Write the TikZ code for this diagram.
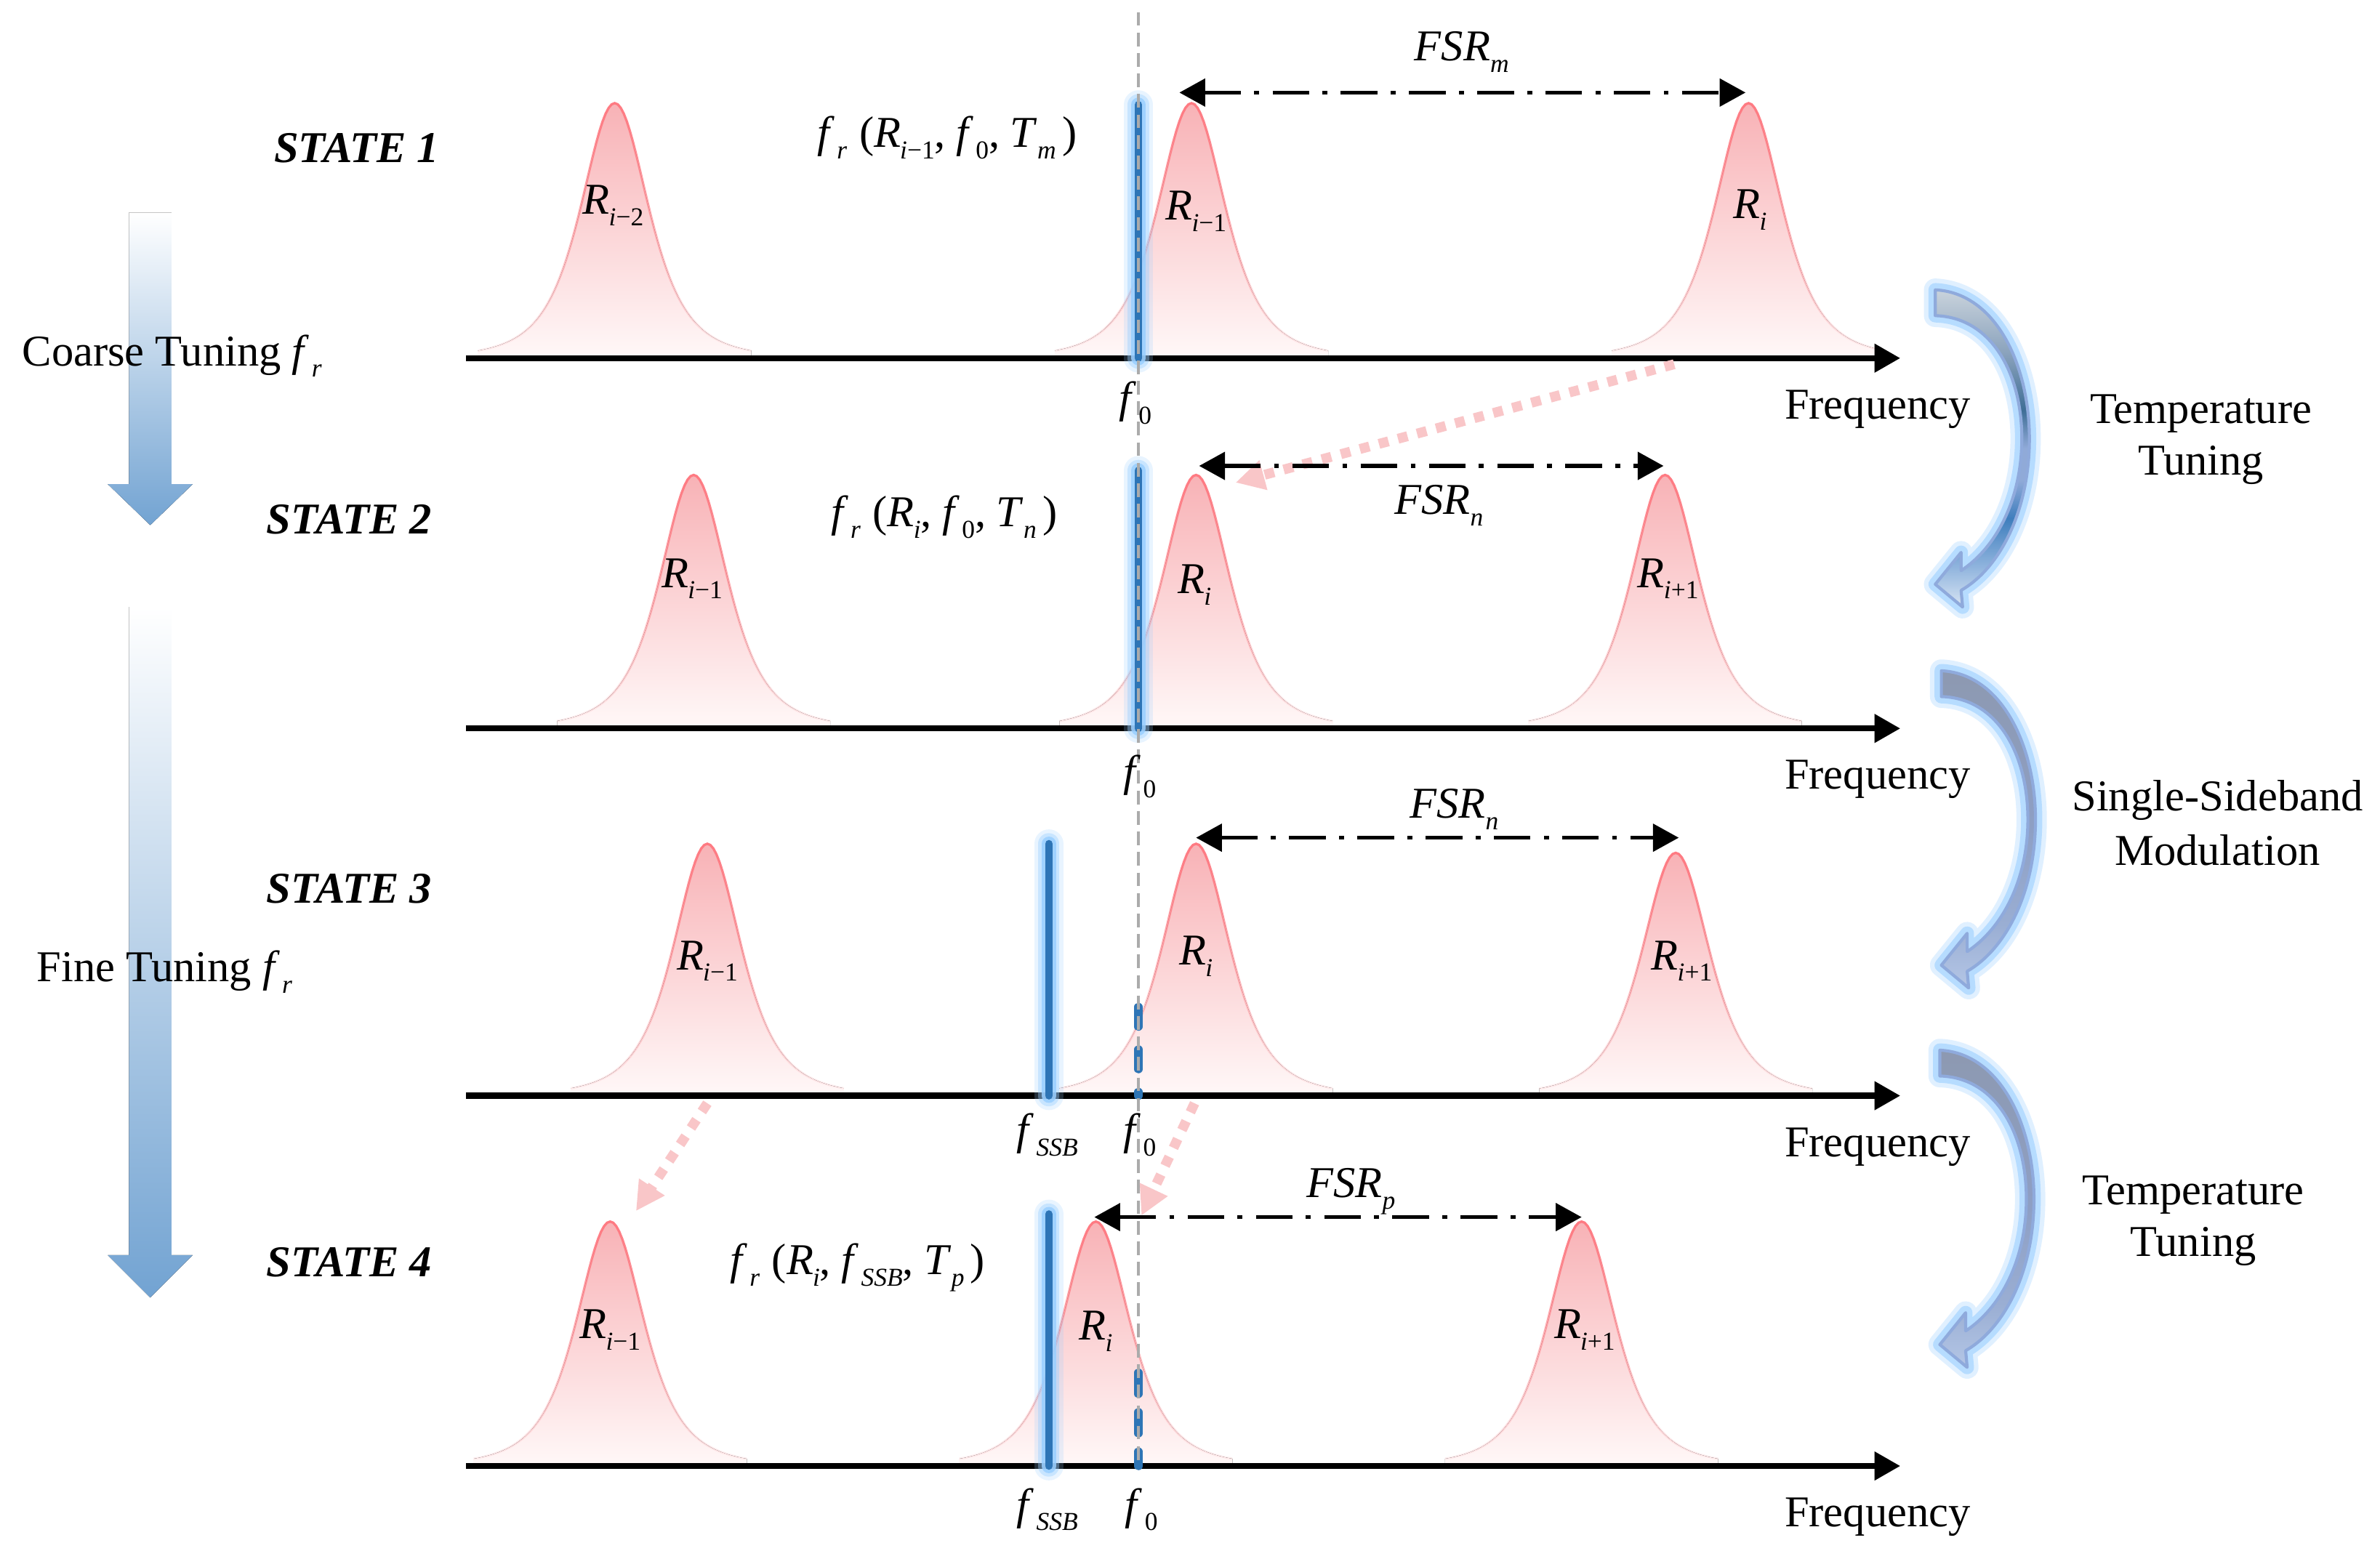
\documentclass[tikz,border=0pt]{standalone}
\usepackage{fontspec}
\setmainfont{Liberation Serif}
\usetikzlibrary{arrows.meta,fadings}

\definecolor{pkTop}{HTML}{F8B2B6}
\definecolor{pkBot}{HTML}{FFF8F8}
\definecolor{pkLine}{HTML}{FF7A82}
\definecolor{barBlue}{HTML}{2E75B6}
\definecolor{glowBlue}{HTML}{9ACFFF}
\definecolor{dashGray}{HTML}{ABABAB}
\definecolor{pinkDot}{HTML}{F9C6C8}
\definecolor{arrOut}{HTML}{8FAADC}
\definecolor{leftBot}{HTML}{72A3D2}

\definecolor{cA1}{HTML}{C9D3DC}
\definecolor{cA2}{HTML}{8AA2BC}
\definecolor{cA3}{HTML}{3F6E96}
\definecolor{cA4}{HTML}{90AAD8}
\definecolor{cA6}{HTML}{3F7EBD}
\definecolor{cA7}{HTML}{8EB3DD}
\definecolor{cA8}{HTML}{D9E5F3}
\definecolor{cB1}{HTML}{8D99B1}
\definecolor{cB2}{HTML}{8E9FC4}
\definecolor{cB3}{HTML}{9AAED3}
\definecolor{cB4}{HTML}{B4C6E6}

\pgfdeclareverticalshading{arrA}{100bp}{color(0bp)=(cA8); color(25bp)=(cA8); color(31.5bp)=(cA7); color(39bp)=(cA6); color(45bp)=(cA4); color(50bp)=(cA4); color(56bp)=(cA3); color(65bp)=(cA2); color(75bp)=(cA1); color(100bp)=(cA1)}
\pgfdeclareverticalshading{arrB}{100bp}{color(0bp)=(cB4); color(25bp)=(cB4); color(35bp)=(cB3); color(50bp)=(cB2); color(75bp)=(cB1); color(100bp)=(cB1)}

\tikzfading[name=fadeDown, top color=transparent!0, bottom color=transparent!92]

\newcommand{\sbx}[1]{\raisebox{-7.5pt}{\fontsize{17}{17}\selectfont #1}}
\newcommand{\Rl}[1]{\textit{R}\kern-0.5pt\sbx{#1}}
\newcommand{\fl}[1]{\textit{f}\kern1.5pt\sbx{#1}}
\newcommand{\carrowpath}{(0,0) .. controls (40,2) and (62,50) .. (62,98) .. controls (62,145) and (43,183) .. (17,198) -- (18,209) -- (0,194) -- (17,173) -- (17,185) .. controls (40,170) and (57,138) .. (57,98) .. controls (57,55) and (37,18) .. (0,17) -- cycle}

\newcommand{\peak}[3]{%
  \fill[top color=pkTop, bottom color=pkBot] ({#1-90},{#2}) -- plot[domain=-90:90, samples=91, variable=\t] ({#1+\t},{#2-#3/((1+(\t/41)^2)^2)}) -- ({#1+90},{#2}) -- cycle;
  \draw[pkLine, line width=1.6pt, path fading=fadeDown] plot[domain=-90:90, samples=91, variable=\t] ({#1+\t},{#2-#3/((1+(\t/41)^2)^2)});
}
\newcommand{\bluebar}[3]{%
  \draw[glowBlue, opacity=.22, line width=19pt, line cap=round] (#1,#2) -- (#1,#3);
  \draw[glowBlue, opacity=.4, line width=14pt, line cap=round] (#1,#2) -- (#1,#3);
  \draw[glowBlue, opacity=.85, line width=9.5pt, line cap=round] (#1,#2) -- (#1,#3);
  \draw[barBlue, line width=5pt, line cap=round] (#1,#2) -- (#1,#3);
}

\tikzset{
  every node/.style={inner sep=0pt, font=\fontsize{29}{34}\selectfont},
  axisline/.style={line width=4pt, -{Triangle[length=17pt,width=18pt]}},
  fsrarrow/.style={line width=2.6pt, dash pattern=on 24pt off 9pt on 3pt off 9pt, {Triangle[length=17pt,width=18pt]}-{Triangle[length=17pt,width=18pt]}},
  pinkarrow/.style={pinkDot, line width=6.5pt, dash pattern=on 6.5pt off 6.5pt, -{Triangle[length=19pt,width=19pt]}},
  bluedash/.style={barBlue, line width=5.5pt, line cap=round},
  leftarrow/.style={top color=white, bottom color=leftBot},
  pics/carrow/.style={code={
    \draw[glowBlue, opacity=.3, line width=15pt, line join=round] \carrowpath;
    \draw[glowBlue, opacity=.6, line width=9pt, line join=round] \carrowpath;
    \fill[shading=#1] \carrowpath;
    \draw[arrOut, line width=2pt, line join=round] \carrowpath;
  }}
}

\begin{document}
\begin{tikzpicture}[x=1pt,y=-1pt]
\fill[white] (0,0) rectangle (1568,1027);
\useasboundingbox (0,0) rectangle (1568,1027);

% left gradient arrows
\fill[leftarrow] (85,140) -- (113,140) -- (113,319) -- (127,319) -- (99,346) -- (71,319) -- (85,319) -- cycle;
\fill[leftarrow] (85,400) -- (113,400) -- (113,827) -- (127,827) -- (99,855) -- (71,827) -- (85,827) -- cycle;

% resonance peaks
\peak{405}{236}{168}
\peak{785}{236}{168}
\peak{1152}{236}{168}
\peak{457}{480}{167}
\peak{788}{480}{167}
\peak{1097}{480}{167}
\peak{466}{722}{166}
\peak{788}{722}{166}
\peak{1104}{722}{160}
\peak{402}{966}{161}
\peak{722}{966}{161}
\peak{1042}{966}{161}

% axes
\foreach \i/\y in {1/236,2/480,3/722,4/966}{
  \coordinate (ax\i s) at (307,\y);
  \coordinate (ax\i e) at (1252,\y);
  \draw[axisline] (ax\i s) -- (ax\i e);
}

% laser lines
\bluebar{750}{69}{236}
\bluebar{750}{310}{480}
\bluebar{691}{556}{722}
\bluebar{691}{800}{966}
\coordinate (d3a) at (750,663.5); \coordinate (d3b) at (750,722);
\draw[bluedash, dash pattern=on 13pt off 15pt] (d3a) -- (d3b);
\coordinate (d4a) at (750,904.5); \coordinate (d4b) at (750,966);
\draw[bluedash, dash pattern=on 14pt off 12pt] (d4a) -- (d4b);

% f0 reference line
\coordinate (g0) at (750,8);
\coordinate (g1) at (750,966);
\draw[dashGray, line width=2pt, dash pattern=on 9pt off 4.5pt] (g0) -- (g1);

% pink shift arrows
\coordinate (p1s) at (1103,240); \coordinate (p1e) at (814,318);
\coordinate (p2s) at (466,727); \coordinate (p2e) at (419,798);
\coordinate (p3s) at (787,727); \coordinate (p3e) at (752,801);
\draw[pinkarrow] (p1s) -- (p1e);
\draw[pinkarrow] (p2s) -- (p2e);
\draw[pinkarrow] (p3s) -- (p3e);

% FSR arrows
\coordinate (f1a) at (777,61); \coordinate (f1b) at (1150,61);
\coordinate (f2a) at (790,307); \coordinate (f2b) at (1096,307);
\coordinate (f3a) at (788,552); \coordinate (f3b) at (1106,552);
\coordinate (f4a) at (721,802); \coordinate (f4b) at (1042,802);
\draw[fsrarrow] (f1a) -- (f1b);
\draw[fsrarrow] (f2a) -- (f2b);
\draw[fsrarrow] (f3a) -- (f3b);
\draw[fsrarrow] (f4a) -- (f4b);

% curved process arrows
\pic (ca1) at (1275,191) {carrow=arrA};
\pic (ca2) at (1279,442) {carrow=arrB};
\pic (ca3) at (1278,692) {carrow=arrB};

% state labels
\node[anchor=base] (st1) at (235,107) {\textbf{\textit{STATE 1}}};
\node[anchor=base] (st2) at (230,352) {\textbf{\textit{STATE 2}}};
\node[anchor=base] (st3) at (230,595) {\textbf{\textit{STATE 3}}};
\node[anchor=base] (st4) at (230,841) {\textbf{\textit{STATE 4}}};

% left texts
\node[anchor=base west] (ct) at (14.5,241) {Coarse Tuning \fl{\textit{r}}};
\node[anchor=base west] (ft) at (24,647) {Fine Tuning \fl{\textit{r}}};

% right texts
\node[anchor=base] (tt1a) at (1450,279) {Temperature};
\node[anchor=base] (tt1b) at (1450,313) {Tuning};
\node[anchor=base] (ssa) at (1461,534) {Single-Sideband};
\node[anchor=base] (ssb) at (1461,570) {Modulation};
\node[anchor=base] (tt2a) at (1445,794) {Temperature};
\node[anchor=base] (tt2b) at (1445,828) {Tuning};

% frequency labels
\node[anchor=base] (fq1) at (1237,276) {Frequency};
\node[anchor=base] (fq2) at (1237,520) {Frequency};
\node[anchor=base] (fq3) at (1237,762) {Frequency};
\node[anchor=base] (fq4) at (1237,1006) {Frequency};

% f0 / fSSB labels
\node[anchor=base] (z1) at (748,272) {\fl{0}};
\node[anchor=base] (z2) at (751,518) {\fl{0}};
\node[anchor=base] (z3) at (751,754) {\fl{0}};
\node[anchor=base] (z4) at (752,1001) {\fl{0}};
\node[anchor=base] (s3) at (690,754) {\fl{\textit{SSB}}};
\node[anchor=base] (s4) at (690,1001) {\fl{\textit{SSB}}};

% resonance labels
\node[anchor=base] (r1a) at (404,141) {\Rl{\textit{i}−2}};
\node[anchor=base] (r1b) at (788,145) {\Rl{\textit{i}−1}};
\node[anchor=base] (r1c) at (1153,144) {\Rl{\textit{i}}};
\node[anchor=base] (r2a) at (456,387) {\Rl{\textit{i}−1}};
\node[anchor=base] (r2b) at (787,391) {\Rl{\textit{i}}};
\node[anchor=base] (r2c) at (1099,387) {\Rl{\textit{i}+1}};
\node[anchor=base] (r3a) at (466,639) {\Rl{\textit{i}−1}};
\node[anchor=base] (r3b) at (788,636) {\Rl{\textit{i}}};
\node[anchor=base] (r3c) at (1108,639) {\Rl{\textit{i}+1}};
\node[anchor=base] (r4a) at (402,882) {\Rl{\textit{i}−1}};
\node[anchor=base] (r4b) at (722,883) {\Rl{\textit{i}}};
\node[anchor=base] (r4c) at (1044,882) {\Rl{\textit{i}+1}};

% FSR labels
\node[anchor=base] (l1) at (963,40) {\textit{FSR}\sbx{\textit{m}}};
\node[anchor=base] (l2) at (948,339) {\textit{FSR}\sbx{\textit{n}}};
\node[anchor=base] (l3) at (958,539) {\textit{FSR}\sbx{\textit{n}}};
\node[anchor=base] (l4) at (890,789) {\textit{FSR}\sbx{\textit{p}}};

% tuning function labels
\node[anchor=base] (e1) at (624,97) {\fl{\textit{r}}\hspace{8pt}(\Rl{\textit{i}−1},\hspace{7pt}\fl{0},\hspace{7pt}\textit{T}\sbx{\textit{m}}\hspace{4pt})};
\node[anchor=base] (e2) at (622,347) {\fl{\textit{r}}\hspace{8pt}(\Rl{\textit{i}},\hspace{7pt}\fl{0},\hspace{7pt}\textit{T}\sbx{\textit{n}}\hspace{4pt})};
\node[anchor=base] (e3) at (565,840) {\fl{\textit{r}}\hspace{8pt}(\Rl{\textit{i}},\hspace{7pt}\fl{\textit{SSB}},\hspace{7pt}\textit{T}\sbx{\textit{p}}\hspace{4pt})};
\end{tikzpicture}
\end{document}
